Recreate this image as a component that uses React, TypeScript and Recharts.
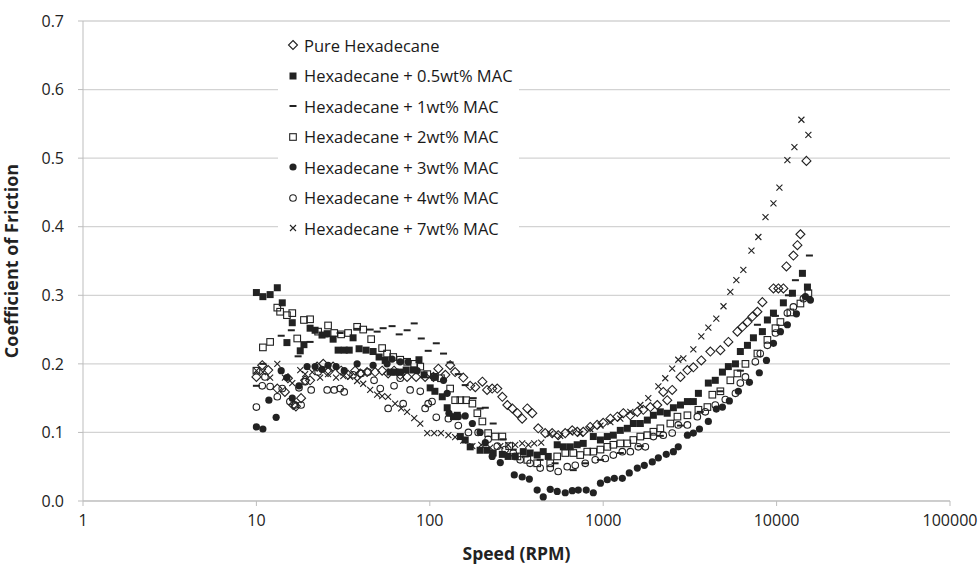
import React from 'react';
import { ScatterChart, Scatter, XAxis, YAxis, CartesianGrid } from 'recharts';

// tick labels
const xTicks = [1, 10, 100, 1000, 10000, 100000];
const yTicks = [0, 0.1, 0.2, 0.3, 0.4, 0.5, 0.6, 0.7];

// Pure Hexadecane
const pureSpeed = [10, 10.8, 11.7, 13.2, 14.6, 15.2, 16.3, 16.9, 18.1, 19.1, 20.4, 22.4, 24.3, 25.9, 27.7, 30.8, 33.8, 37.1, 39.7, 43.5, 48.4, 53.1, 57.5, 62.2, 67.5, 74, 83.4, 94, 105, 112, 123, 131, 140, 156, 171, 183, 201, 214, 229, 245, 262, 280, 299, 320, 341, 365, 390, 422, 463, 508, 550, 604, 663, 708, 767, 841, 923, 1000, 1100, 1206, 1306, 1434, 1573, 1703, 1870, 2050, 2220, 2340, 2500, 2790, 3060, 3310, 3680, 4150, 4740, 5270, 5940, 6350, 6790, 7250, 7750, 8280, 9590, 10240, 10940, 11390, 12500, 13180, 13720, 14860];
const pureCof = [0.181, 0.198, 0.191, 0.164, 0.159, 0.179, 0.14, 0.138, 0.15, 0.176, 0.176, 0.196, 0.2, 0.188, 0.196, 0.19, 0.184, 0.19, 0.186, 0.188, 0.188, 0.19, 0.186, 0.19, 0.184, 0.181, 0.181, 0.181, 0.181, 0.193, 0.184, 0.198, 0.188, 0.18, 0.168, 0.166, 0.174, 0.162, 0.164, 0.164, 0.152, 0.14, 0.135, 0.128, 0.12, 0.135, 0.128, 0.106, 0.099, 0.099, 0.096, 0.099, 0.103, 0.101, 0.101, 0.108, 0.111, 0.114, 0.12, 0.123, 0.128, 0.125, 0.13, 0.133, 0.137, 0.14, 0.159, 0.147, 0.162, 0.181, 0.191, 0.195, 0.205, 0.218, 0.22, 0.232, 0.247, 0.254, 0.261, 0.269, 0.276, 0.29, 0.31, 0.31, 0.31, 0.342, 0.358, 0.373, 0.389, 0.496];

// Hexadecane + 0.5wt% MAC
const mac05Speed = [10, 10.9, 12, 13.2, 14.1, 15, 16.1, 17.9, 18.8, 20.4, 21.8, 23.9, 25.6, 27.7, 29.6, 32.1, 34.3, 36.1, 39.1, 42.9, 47.1, 51, 55.3, 59, 63.1, 67.5, 73.1, 80.3, 86.6, 92.7, 100.5, 107, 118, 126, 137, 144, 150, 160, 171, 195, 214, 232, 262, 283, 311, 346, 379, 416, 451, 482, 543, 589, 646, 708, 767, 877, 964, 1056, 1144, 1255, 1377, 1492, 1637, 1797, 1947, 2135, 2340, 2540, 2790, 3060, 3310, 3540, 4040, 4430, 4870, 5270, 5790, 6180, 6790, 7350, 8280, 8850, 9590, 10940, 12340, 14090, 15060];
const mac05Cof = [0.304, 0.298, 0.301, 0.311, 0.289, 0.231, 0.26, 0.219, 0.228, 0.252, 0.249, 0.242, 0.244, 0.236, 0.22, 0.22, 0.22, 0.238, 0.222, 0.22, 0.218, 0.21, 0.205, 0.188, 0.188, 0.188, 0.191, 0.191, 0.206, 0.184, 0.165, 0.16, 0.152, 0.136, 0.123, 0.125, 0.094, 0.089, 0.079, 0.074, 0.074, 0.07, 0.068, 0.065, 0.065, 0.072, 0.07, 0.067, 0.072, 0.065, 0.082, 0.079, 0.079, 0.082, 0.084, 0.094, 0.089, 0.094, 0.096, 0.103, 0.106, 0.113, 0.113, 0.118, 0.125, 0.13, 0.128, 0.136, 0.14, 0.145, 0.145, 0.157, 0.172, 0.176, 0.188, 0.196, 0.2, 0.218, 0.227, 0.238, 0.247, 0.264, 0.274, 0.289, 0.303, 0.332, 0.312];

// Hexadecane + 1wt% MAC
const mac1Speed = [10, 10.9, 13.9, 15.9, 17.4, 20.4, 24.9, 30.4, 38.1, 45.3, 49.7, 53.8, 60.6, 66.6, 74, 81.3, 89.3, 97.9, 109, 120, 131, 146, 160, 178, 195, 209, 232, 265, 303, 355, 433, 528, 672, 788, 964, 1255, 1637, 2135, 2790, 3630, 4740, 6180, 7750, 9850, 11700, 12840, 15460];
const mac1Cof = [0.168, 0.2, 0.241, 0.249, 0.211, 0.232, 0.24, 0.245, 0.251, 0.25, 0.247, 0.252, 0.255, 0.243, 0.249, 0.259, 0.237, 0.219, 0.23, 0.215, 0.202, 0.185, 0.169, 0.15, 0.135, 0.136, 0.113, 0.09, 0.075, 0.065, 0.06, 0.055, 0.045, 0.055, 0.06, 0.07, 0.08, 0.095, 0.11, 0.13, 0.16, 0.19, 0.257, 0.27, 0.3, 0.322, 0.358];

// Hexadecane + 2wt% MAC
const mac2Speed = [10, 10.9, 12, 13.2, 13.7, 15, 16.1, 17.2, 18.8, 20.4, 22.7, 25.9, 28.1, 30.8, 33.8, 38.1, 41.3, 45.9, 53.1, 56.7, 61.5, 67.5, 74, 81.3, 88.1, 96.7, 107, 116, 131, 140, 150, 162, 176, 188, 201, 217, 238, 262, 287, 320, 365, 416, 495, 543, 604, 672, 737, 809, 877, 964, 1056, 1144, 1255, 1377, 1492, 1637, 1797, 1947, 2135, 2440, 2680, 3060, 3540, 3990, 4260, 4740, 5410, 5940, 6610, 7750, 8850, 9850, 10520, 12010, 13720, 15250];
const mac2Cof = [0.19, 0.224, 0.232, 0.282, 0.276, 0.271, 0.274, 0.237, 0.264, 0.265, 0.247, 0.256, 0.245, 0.243, 0.245, 0.254, 0.25, 0.236, 0.223, 0.215, 0.21, 0.206, 0.203, 0.2, 0.196, 0.185, 0.181, 0.179, 0.164, 0.147, 0.147, 0.147, 0.142, 0.128, 0.116, 0.099, 0.094, 0.094, 0.08, 0.065, 0.06, 0.055, 0.055, 0.065, 0.07, 0.07, 0.067, 0.072, 0.072, 0.075, 0.079, 0.082, 0.084, 0.084, 0.089, 0.094, 0.096, 0.101, 0.106, 0.113, 0.123, 0.125, 0.133, 0.137, 0.155, 0.16, 0.176, 0.186, 0.2, 0.215, 0.235, 0.252, 0.261, 0.275, 0.288, 0.303];

// Hexadecane + 3wt% MAC
const mac3Speed = [10, 10.9, 11.8, 13, 13.9, 15, 16.1, 17.6, 19.6, 21.8, 23.9, 25.9, 28.8, 32.1, 38.1, 47.1, 56.7, 60.6, 67.5, 75, 84.5, 107, 120, 126, 129, 146, 160, 176, 195, 209, 229, 255, 307, 341, 375, 416, 451, 495, 543, 604, 663, 718, 798, 877, 964, 1056, 1159, 1289, 1414, 1573, 1726, 1919, 2080, 2310, 2540, 2710, 3060, 3310, 3590, 4040, 4490, 4870, 5340, 6020, 6970, 7950, 8740, 9590, 10520, 11540, 13010, 14660, 15670];
const mac3Cof = [0.108, 0.105, 0.147, 0.122, 0.19, 0.18, 0.15, 0.168, 0.196, 0.196, 0.192, 0.198, 0.196, 0.19, 0.2, 0.198, 0.2, 0.207, 0.203, 0.203, 0.19, 0.181, 0.176, 0.157, 0.128, 0.123, 0.124, 0.113, 0.1, 0.085, 0.065, 0.056, 0.038, 0.035, 0.032, 0.016, 0.006, 0.017, 0.014, 0.012, 0.015, 0.016, 0.016, 0.012, 0.026, 0.031, 0.033, 0.033, 0.041, 0.048, 0.052, 0.057, 0.063, 0.068, 0.072, 0.079, 0.096, 0.099, 0.105, 0.116, 0.134, 0.137, 0.146, 0.16, 0.173, 0.187, 0.205, 0.23, 0.247, 0.257, 0.273, 0.298, 0.293];

// Hexadecane + 4wt% MAC
const mac4Speed = [10, 10.8, 11.2, 12, 13.2, 14.1, 15.6, 16.7, 17.6, 18.1, 19.1, 20.7, 22.7, 25.6, 28.1, 30.4, 32.1, 36.1, 40.2, 44.1, 47.7, 51.8, 57.5, 62.2, 67.5, 70.2, 77, 88.1, 94, 97.9, 103, 109, 128, 146, 167, 190, 217, 245, 272, 303, 332, 379, 433, 495, 550, 620, 690, 788, 900, 1028, 1144, 1289, 1434, 1594, 1750, 1947, 2220, 2500, 2710, 3060, 3490, 3880, 4430, 5060, 5790, 6180, 6610, 7540, 8050, 8850, 9850, 11540, 12500, 14280];
const mac4Cof = [0.137, 0.168, 0.181, 0.167, 0.152, 0.164, 0.145, 0.14, 0.165, 0.14, 0.174, 0.162, 0.188, 0.162, 0.162, 0.164, 0.159, 0.184, 0.186, 0.188, 0.176, 0.164, 0.135, 0.168, 0.179, 0.142, 0.162, 0.16, 0.135, 0.142, 0.145, 0.122, 0.12, 0.11, 0.1, 0.1, 0.09, 0.08, 0.075, 0.07, 0.06, 0.055, 0.048, 0.048, 0.043, 0.05, 0.052, 0.055, 0.06, 0.062, 0.067, 0.072, 0.072, 0.079, 0.079, 0.094, 0.096, 0.099, 0.111, 0.111, 0.123, 0.13, 0.14, 0.148, 0.157, 0.172, 0.181, 0.203, 0.215, 0.227, 0.245, 0.274, 0.283, 0.295];

// Hexadecane + 7wt% MAC
const mac7Speed = [10, 10.9, 12, 13.2, 14.6, 16.1, 17.9, 19.1, 21, 23.3, 25.9, 28.8, 31.7, 34.7, 38.1, 41.3, 45.3, 49.7, 53.1, 57.5, 63.1, 68.4, 74, 81.3, 88.1, 96.7, 106, 116, 128, 140, 156, 176, 198, 223, 255, 283, 311, 341, 370, 400, 439, 495, 565, 646, 737, 841, 964, 1100, 1255, 1434, 1637, 1820, 2080, 2280, 2500, 2710, 2900, 3310, 3680, 4040, 4490, 4940, 5410, 5860, 6430, 7160, 7850, 8630, 9590, 10380, 11540, 12670, 13900, 15250];
const mac7Cof = [0.19, 0.188, 0.18, 0.2, 0.18, 0.172, 0.191, 0.185, 0.188, 0.18, 0.185, 0.18, 0.182, 0.181, 0.175, 0.171, 0.162, 0.155, 0.153, 0.152, 0.142, 0.135, 0.13, 0.121, 0.113, 0.099, 0.099, 0.099, 0.096, 0.093, 0.088, 0.08, 0.082, 0.078, 0.08, 0.082, 0.082, 0.084, 0.082, 0.084, 0.085, 0.098, 0.095, 0.1, 0.098, 0.105, 0.11, 0.115, 0.12, 0.13, 0.14, 0.15, 0.167, 0.179, 0.193, 0.206, 0.208, 0.221, 0.24, 0.253, 0.266, 0.284, 0.305, 0.322, 0.337, 0.365, 0.385, 0.414, 0.434, 0.457, 0.497, 0.516, 0.556, 0.534];

const toPoints = (speeds: number[], cofs: number[]) =>
  speeds.map((speed, i) => ({ speed, cof: cofs[i] }));

const INK = '#222';

type P = { cx?: number; cy?: number };

const openDiamond = ({ cx = 0, cy = 0 }: P) => (
  <path d={`M${cx},${cy - 4.5}L${cx + 4.5},${cy}L${cx},${cy + 4.5}L${cx - 4.5},${cy}Z`} fill="none" stroke={INK} strokeWidth={1.1} />
);
const solidSquare = ({ cx = 0, cy = 0 }: P) => (
  <rect x={cx - 3.5} y={cy - 3.5} width={7} height={7} fill={INK} />
);
const dash = ({ cx = 0, cy = 0 }: P) => (
  <rect x={cx - 3.5} y={cy - 1} width={7} height={2} fill={INK} />
);
const openSquare = ({ cx = 0, cy = 0 }: P) => (
  <rect x={cx - 3.3} y={cy - 3.3} width={6.6} height={6.6} fill="none" stroke={INK} strokeWidth={1.1} />
);
const solidCircle = ({ cx = 0, cy = 0 }: P) => <circle cx={cx} cy={cy} r={3.6} fill={INK} />;
const openCircle = ({ cx = 0, cy = 0 }: P) => (
  <circle cx={cx} cy={cy} r={3.3} fill="none" stroke={INK} strokeWidth={1.1} />
);
const cross = ({ cx = 0, cy = 0 }: P) => (
  <path d={`M${cx - 3},${cy - 3}L${cx + 3},${cy + 3}M${cx - 3},${cy + 3}L${cx + 3},${cy - 3}`} stroke={INK} strokeWidth={1.1} />
);

const seriesList = [
  { name: 'Pure Hexadecane', data: toPoints(pureSpeed, pureCof), shape: openDiamond },
  { name: 'Hexadecane + 0.5wt% MAC', data: toPoints(mac05Speed, mac05Cof), shape: solidSquare },
  { name: 'Hexadecane + 1wt% MAC', data: toPoints(mac1Speed, mac1Cof), shape: dash },
  { name: 'Hexadecane + 2wt% MAC', data: toPoints(mac2Speed, mac2Cof), shape: openSquare },
  { name: 'Hexadecane + 3wt% MAC', data: toPoints(mac3Speed, mac3Cof), shape: solidCircle },
  { name: 'Hexadecane + 4wt% MAC', data: toPoints(mac4Speed, mac4Cof), shape: openCircle },
  { name: 'Hexadecane + 7wt% MAC', data: toPoints(mac7Speed, mac7Cof), shape: cross },
];

const tickStyle = { fill: '#222', fontSize: 16, fontFamily: 'Open Sans' };
const axisColor = '#bdbdbd';

const App: React.FC = () => {
  return (
    <div style={{ position: 'absolute', left: 0, top: 0, width: 979, height: 567, background: '#fff' }}>
      <ScatterChart width={979} height={567} margin={{ top: 21, right: 29, bottom: 0, left: 0 }}>
        <CartesianGrid vertical={false} stroke="#d3d3d3" strokeWidth={1.3} />
        <XAxis
          type="number"
          dataKey="speed"
          scale="log"
          domain={[1, 100000]}
          ticks={xTicks}
          height={66}
          tick={tickStyle}
          tickSize={5}
          tickMargin={9}
          stroke={axisColor}
          tickLine={{ stroke: axisColor }}
          allowDataOverflow
          label={{
            value: 'Speed (RPM)',
            position: 'insideBottom',
            offset: 7,
            style: { fill: '#222', fontSize: 17.5, fontWeight: 700, fontFamily: 'Open Sans' },
          }}
        />
        <YAxis
          type="number"
          dataKey="cof"
          domain={[0, 0.7]}
          ticks={yTicks}
          width={83}
          tick={tickStyle}
          tickSize={5}
          tickMargin={14}
          stroke={axisColor}
          tickLine={{ stroke: axisColor }}
          tickFormatter={(v: number) => v.toFixed(1)}
          label={{
            value: 'Coefficient of Friction',
            angle: -90,
            position: 'insideLeft',
            offset: 12,
            style: { textAnchor: 'middle', fill: '#222', fontSize: 18, fontWeight: 700, fontFamily: 'Open Sans' },
          }}
        />
        {seriesList.map((s) => (
          <Scatter key={s.name} name={s.name} data={s.data} shape={s.shape} isAnimationActive={false} />
        ))}
      </ScatterChart>
      <div
        style={{
          position: 'absolute',
          left: 278,
          top: 30,
          width: 241,
          background: '#fff',
          fontFamily: 'Open Sans',
          fontSize: 16.5,
          color: '#1a1a1a',
        }}
      >
        {seriesList.map((s) => (
          <div key={s.name} style={{ height: 30.5, display: 'flex', alignItems: 'center' }}>
            <svg width={20} height={14} style={{ marginLeft: 5, flexShrink: 0 }}>
              {s.shape({ cx: 10, cy: 7 })}
            </svg>
            <span style={{ marginLeft: 1, whiteSpace: 'nowrap' }}>{s.name}</span>
          </div>
        ))}
      </div>
    </div>
  );
};

export default App;
